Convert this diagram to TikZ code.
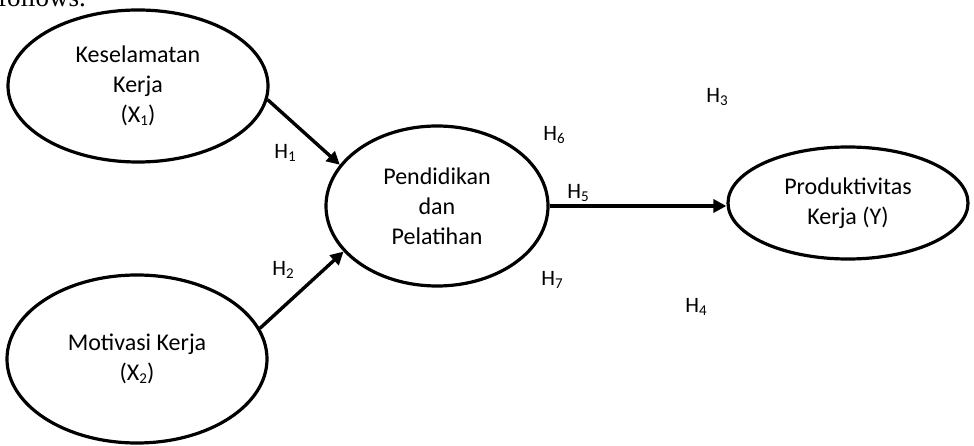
\documentclass[tikz,border=0pt]{standalone}
\usepackage{fontspec}
\setmainfont{Carlito}
\newfontfamily\myserif{Liberation Serif}
\usetikzlibrary{shapes.geometric,arrows.meta}
\newcommand\mysub[1]{\raisebox{-0.12em}{\fontsize{15}{15}\selectfont #1}}
\begin{document}
\begin{tikzpicture}[x=1pt,y=-1pt,
  var/.style={ellipse,draw,line width=3.2pt,inner sep=0pt,align=center,
    font=\fontsize{24}{30}\selectfont},
  arr/.style={line width=3.4pt,-{Triangle[length=13pt,width=13pt]}},
  hlab/.style={font=\fontsize{22}{22}\selectfont,inner sep=0pt}]
\useasboundingbox (0,0) rectangle (974,446);
\clip (0,0) rectangle (974,446);
\node[anchor=base west,inner sep=0pt,font=\myserif\fontsize{27}{27}\selectfont] (top) at (-2,7) {follows.};
\node[var,minimum width=260pt,minimum height=152pt] (k) at (138,86) {Keselamatan\\Kerja\\(X\mysub{1})};
\node[var,minimum width=260pt,minimum height=168pt] (m) at (137,359) {Motivasi Kerja\\(X\mysub{2})};
\node[var,minimum width=222pt,minimum height=160pt] (p) at (437,206) {Pendidikan\\dan\\Pelatihan};
\node[var,minimum width=240pt,minimum height=112pt] (y) at (848,203) {Produktivitas\\Kerja (Y)};
\draw[arr] (k.-6) -- (p.157);
\draw[arr] (m.14) -- (p.206);
\draw[arr] (p.east) -- (p.east -| y.west);
\node[hlab] (h1) at (285,153) {H\mysub{1}};
\node[hlab] (h2) at (283,270) {H\mysub{2}};
\node[hlab] (h3) at (717,97) {H\mysub{3}};
\node[hlab] (h4) at (696,307) {H\mysub{4}};
\node[hlab] (h5) at (578,193) {H\mysub{5}};
\node[hlab] (h6) at (554,135) {H\mysub{6}};
\node[hlab] (h7) at (552,280) {H\mysub{7}};
\end{tikzpicture}
\end{document}
